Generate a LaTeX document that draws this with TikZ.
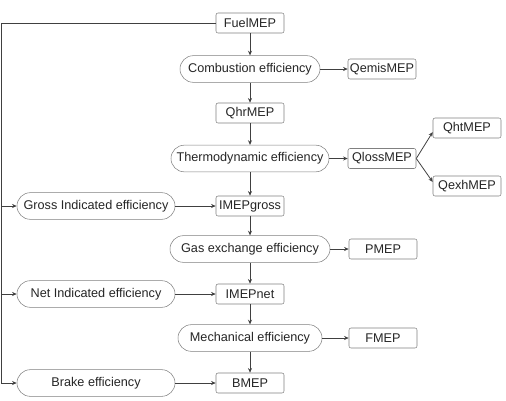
\documentclass[tikz,border=0pt]{standalone}
\usepackage{fontspec}
\setmainfont{Liberation Sans}
\usetikzlibrary{arrows.meta}

\begin{document}
\begin{tikzpicture}[x=0.75pt,y=-0.75pt,
    mep/.style={draw=black!50,fill=white,rounded corners=1.5pt,minimum width=51pt,minimum height=15pt,inner sep=0pt,text=black!85,font=\fontsize{9.5}{11}\selectfont},
    eff/.style={draw=black!50,fill=white,rounded corners=10pt,minimum height=20pt,inner sep=0pt,text=black!85,font=\fontsize{9.5}{11}\selectfont},
    link/.style={draw=black!75,line width=0.6pt,-{Stealth[length=3.5pt,width=3pt]}}]
  \useasboundingbox (0,0) rectangle (506,400);
  \draw
    (250,23) node[mep] (0){FuelMEP}
    (250,69) node[eff,minimum width=105pt] (1){Combustion efficiency}
    (382,69) node[mep] (2){QemisMEP}
    (250,113) node[mep] (3){QhrMEP}
    (250,158.5) node[eff,minimum width=118.5pt] (4){Thermodynamic efficiency}
    (382,158.5) node[mep] (5){QlossMEP}
    (467,128) node[mep] (6){QhtMEP}
    (467,186) node[mep] (7){QexhMEP}
    (96,206) node[eff,minimum width=118.5pt] (8){Gross Indicated efficiency}
    (250,206) node[mep] (9){IMEPgross}
    (250,249) node[eff,minimum width=120pt] (10){Gas exchange efficiency}
    (383,249) node[mep] (11){PMEP}
    (96,294) node[eff,minimum width=118.5pt] (12){Net Indicated efficiency}
    (250,294) node[mep] (13){IMEPnet}
    (250,338) node[eff,minimum width=108pt] (14){Mechanical efficiency}
    (383,338) node[mep] (15){FMEP}
    (96,383) node[eff,minimum width=118.5pt] (16){Brake efficiency}
    (250,383) node[mep] (17){BMEP};
  \coordinate (18) at (1.5,23);
  \begin{scope}[link]
    % main column
    \draw (0) to (1);
    \draw (1) to (3);
    \draw (3) to (4);
    \draw (4) to (9);
    \draw (9) to (10);
    \draw (10) to (13);
    \draw (13) to (14);
    \draw (14) to (17);
    % losses
    \draw (1) to (2);
    \draw (4) to (5);
    \draw (5.east) to ([yshift=-3pt]6.west);
    \draw (5.east) to ([yshift=3pt]7.west);
    \draw (10) to (11);
    \draw (14) to (15);
    % efficiencies
    \draw (8) to (9);
    \draw (12) to (13);
    \draw (16) to (17);
    \draw[-] (0) to (18);
    \draw (18) |- (16);
    \draw (18 |- 8) to (8);
    \draw (18 |- 12) to (12);
  \end{scope}
\end{tikzpicture}
\end{document}
